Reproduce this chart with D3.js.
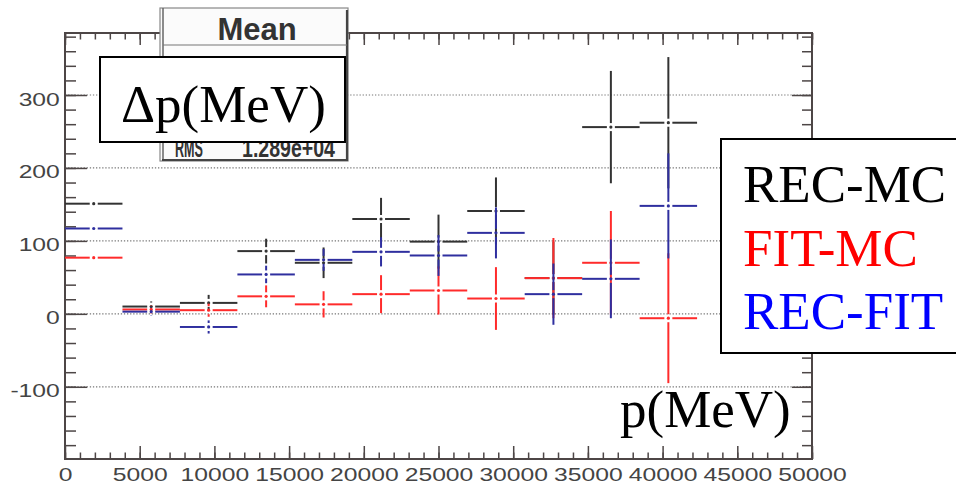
<!DOCTYPE html>
<html>
<head>
<meta charset="utf-8">
<script src="https://cdn.jsdelivr.net/npm/d3@7"></script>
<style>
  body { margin: 0; background: #fff; }
  svg { display: block; }
</style>
</head>
<body>
<div id="chart"></div>
<script>
// bin centres (MeV) and half width of each bin
const pCenters = [1923, 5769, 9615, 13462, 17308, 21154, 25000, 28846, 32692, 36538, 40385];
const pHalfWidth = 1923;

// delta p (MeV) per bin, with errors
const recMC     = [151, 10, 15, 86, 70, 130, 99, 141, 49, 256, 262];
const recMCErr  = [0, 7, 11, 17, 21, 29, 37, 46, 50, 77, 90];
const fitMC     = [77, 6, 5, 24, 13, 27, 32, 21, 49, 70, -6];
const fitMCErr  = [0, 6, 9, 15, 18, 26, 33, 43, 55, 71, 89];
const recFIT    = [117, 3, -18, 54, 74, 85, 80, 111, 27, 48, 148];
const recFITErr = [0, 6, 9, 12, 15, 20, 28, 35, 42, 54, 72];

const xTicks = [0, 5000, 10000, 15000, 20000, 25000, 30000, 35000, 40000, 45000, 50000];
const yTicks = [-100, 0, 100, 200, 300];
const legendNames = ["REC-MC", "FIT-MC", "REC-FIT"];

const W = 956, H = 485;
const plotL = 65, plotR = 812, plotT = 33, plotB = 459;
const axisColor = "#4d4646";
const labelFont = "'Liberation Sans', Arial, sans-serif";
const serifFont = "'Liberation Serif', 'Times New Roman', serif";

const svg = d3.select("#chart").append("svg")
  .attr("width", W).attr("height", H);

const x = d3.scaleLinear().domain([0, 50000]).range([plotL, plotR]);
const y = d3.scaleLinear().domain([-199, 385]).range([plotB, plotT]);

// dotted grid on major y ticks
svg.append("g")
  .selectAll("line")
  .data(yTicks).enter()
  .append("line")
  .attr("x1", plotL).attr("x2", plotR)
  .attr("y1", d => y(d)).attr("y2", d => y(d))
  .attr("stroke", "#777")
  .attr("stroke-width", 1.2)
  .attr("stroke-dasharray", "1.3,1.8");

// axes: major + minor on all four sides
function styleAxis(g) {
  g.select(".domain").remove();
  g.selectAll(".tick line").attr("stroke", axisColor).attr("stroke-width", 1.5);
}
const xMinor = d3.range(0, 50001, 1000);
const yMinor = d3.range(-180, 385, 20);
const plain = d => String(d);

// bottom
svg.append("g").attr("transform", "translate(0," + plotB + ")")
  .call(d3.axisBottom(x).tickValues(xMinor).tickSize(-6.5).tickFormat(""))
  .call(styleAxis);
const xb = svg.append("g").attr("transform", "translate(0," + plotB + ")")
  .call(d3.axisBottom(x).tickValues(xTicks).tickSize(-13).tickFormat(plain))
  .call(styleAxis);
xb.selectAll(".tick text")
  .attr("y", 22).attr("dy", null)
  .attr("transform", "scale(1.3,1)")
  .attr("fill", "#444")
  .style("font-family", labelFont)
  .style("font-size", "19px");

// top
svg.append("g").attr("transform", "translate(0," + plotT + ")")
  .call(d3.axisTop(x).tickValues(xMinor).tickSize(-6.5).tickFormat(""))
  .call(styleAxis);
svg.append("g").attr("transform", "translate(0," + plotT + ")")
  .call(d3.axisTop(x).tickValues(xTicks).tickSize(-12).tickFormat(""))
  .call(styleAxis);

// left
svg.append("g").attr("transform", "translate(" + plotL + ",0)")
  .call(d3.axisLeft(y).tickValues(yMinor).tickSize(-11).tickFormat(""))
  .call(styleAxis);
const yl = svg.append("g").attr("transform", "translate(" + plotL + ",0)")
  .call(d3.axisLeft(y).tickValues(yTicks).tickSize(-22).tickFormat(plain))
  .call(styleAxis);
yl.selectAll(".tick text")
  .attr("x", -4).attr("dy", null).attr("y", 10)
  .attr("transform", "scale(1.3,1)")
  .attr("fill", "#444")
  .style("font-family", labelFont)
  .style("font-size", "19px");

// right
svg.append("g").attr("transform", "translate(" + plotR + ",0)")
  .call(d3.axisRight(y).tickValues(yMinor).tickSize(-10).tickFormat(""))
  .call(styleAxis);
svg.append("g").attr("transform", "translate(" + plotR + ",0)")
  .call(d3.axisRight(y).tickValues(yTicks).tickSize(-20).tickFormat(""))
  .call(styleAxis);

// frame
svg.append("rect")
  .attr("x", plotL).attr("y", plotT)
  .attr("width", plotR - plotL).attr("height", plotB - plotT)
  .attr("fill", "none")
  .attr("stroke", axisColor).attr("stroke-width", 2);

// data: error crosses with a gap round a small dot
const series = [
  { values: recMC,  errors: recMCErr,  color: "#333333" },
  { values: fitMC,  errors: fitMCErr,  color: "#ff2b2b" },
  { values: recFIT, errors: recFITErr, color: "#2f2f9f" }
];
const gap = 4;

series.forEach(s => {
  const g = svg.append("g")
    .attr("stroke", s.color)
    .attr("stroke-width", 2);
  const pts = pCenters.map((p, i) => ({ p: p, v: s.values[i], e: s.errors[i] }));
  const cell = g.selectAll("g").data(pts).enter().append("g");

  cell.append("line")
    .attr("x1", d => x(d.p - pHalfWidth)).attr("x2", d => x(d.p) - gap)
    .attr("y1", d => y(d.v)).attr("y2", d => y(d.v));
  cell.append("line")
    .attr("x1", d => x(d.p) + gap).attr("x2", d => x(d.p + pHalfWidth))
    .attr("y1", d => y(d.v)).attr("y2", d => y(d.v));

  cell.filter(d => y(d.v) - y(d.v + d.e) > gap).append("line")
    .attr("x1", d => x(d.p)).attr("x2", d => x(d.p))
    .attr("y1", d => y(d.v + d.e)).attr("y2", d => y(d.v) - gap);
  cell.filter(d => y(d.v - d.e) - y(d.v) > gap).append("line")
    .attr("x1", d => x(d.p)).attr("x2", d => x(d.p))
    .attr("y1", d => y(d.v) + gap).attr("y2", d => y(d.v - d.e));

  cell.append("circle")
    .attr("cx", d => x(d.p)).attr("cy", d => y(d.v))
    .attr("r", 1.6)
    .attr("stroke", "none")
    .attr("fill", s.color);
});

// stats box (partly covered)
const stats = svg.append("g");
stats.append("rect")
  .attr("x", 160).attr("y", 8).attr("width", 188).attr("height", 153)
  .attr("fill", "#fbfbfb").attr("stroke", "#888").attr("stroke-width", 1.2);
stats.append("line")
  .attr("x1", 163).attr("x2", 163).attr("y1", 8).attr("y2", 160)
  .attr("stroke", "#666").attr("stroke-width", 1.5);
stats.append("polyline")
  .attr("points", "347,10 347,160 162,160")
  .attr("fill", "none").attr("stroke", "#444").attr("stroke-width", 2.2);
stats.append("line")
  .attr("x1", 163).attr("x2", 347).attr("y1", 45).attr("y2", 45)
  .attr("stroke", "#777").attr("stroke-width", 1.2);
stats.append("text")
  .attr("x", 257).attr("y", 40)
  .attr("text-anchor", "middle")
  .attr("fill", "#333")
  .style("font-family", labelFont)
  .style("font-weight", "bold")
  .style("font-size", "31px")
  .text("Mean");
stats.append("text")
  .attr("x", 175).attr("y", 157)
  .attr("fill", "#333")
  .attr("textLength", 28).attr("lengthAdjust", "spacingAndGlyphs")
  .style("font-family", labelFont)
  .style("font-weight", "bold")
  .style("font-size", "26px")
  .text("RMS");
stats.append("text")
  .attr("x", 242).attr("y", 157)
  .attr("fill", "#333")
  .attr("textLength", 93).attr("lengthAdjust", "spacingAndGlyphs")
  .style("font-family", labelFont)
  .style("font-weight", "bold")
  .style("font-size", "26px")
  .text("1.289e+04");

// y title box
svg.append("rect")
  .attr("x", 100).attr("y", 57).attr("width", 245).attr("height", 85)
  .attr("fill", "#fff").attr("stroke", "#000").attr("stroke-width", 2);
svg.append("text")
  .attr("x", 121).attr("y", 122)
  .style("font-family", serifFont)
  .style("font-size", "53px")
  .text("\u0394p(MeV)");

// x title
svg.append("text")
  .attr("x", 620).attr("y", 427)
  .style("font-family", serifFont)
  .style("font-size", "53px")
  .text("p(MeV)");

// legend box
svg.append("rect")
  .attr("x", 721).attr("y", 139).attr("width", 250).attr("height", 214)
  .attr("fill", "#fff").attr("stroke", "#000").attr("stroke-width", 2);
const legendColors = ["#000", "#ff0000", "#0000ff"];
svg.append("g").selectAll("text")
  .data(legendNames).enter()
  .append("text")
  .attr("x", 743)
  .attr("y", (d, i) => 202 + i * 63.5)
  .attr("fill", (d, i) => legendColors[i])
  .style("font-family", serifFont)
  .style("font-size", "53px")
  .text(d => d);
</script>
</body>
</html>
